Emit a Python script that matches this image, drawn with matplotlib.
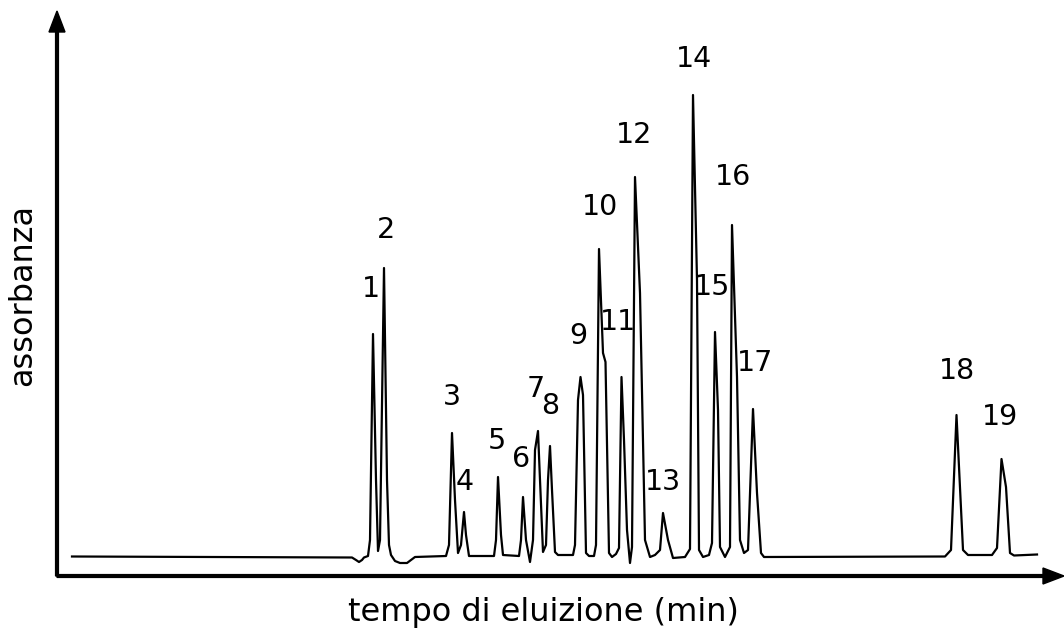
import numpy as np
import matplotlib.pyplot as plt

# tracciato del cromatogramma (tempo, assorbanza)
tempo = [15, 295, 299, 302, 305, 307, 311, 313, 316, 319, 321, 323, 327, 330, 332, 334,
         338, 343, 350, 354, 358, 389, 392, 395, 398, 401, 404, 407, 409, 412, 437, 439,
         441, 444, 446, 462, 464, 466, 469, 473, 476, 478, 481, 483, 486, 489, 491, 493,
         495, 498, 501, 516, 518, 521, 523.5, 526, 529, 532, 537, 539, 542, 546, 548.5, 552,
         555, 559, 562, 564.5, 567, 570, 573, 575, 578, 583, 588, 593, 598, 603, 606, 611,
         616, 628, 633, 636, 640, 642, 646, 652, 655, 658, 661, 663, 668, 673, 675, 680,
         683, 687, 691, 696, 700, 704, 707, 888, 894, 899.5, 906, 911, 935, 940, 944.5, 949,
         953, 957, 980]
assorbanza = [19.5, 18.5, 16, 14, 16, 18.5, 20, 36, 242, 96, 25, 36, 308, 96, 31, 21,
              15, 13, 13, 16, 19, 20, 31, 143, 76, 23, 31, 64, 41, 20, 20, 36,
              99, 41, 21, 20, 36, 79, 36, 14, 36, 126, 145, 96, 24, 31, 96, 130,
              86, 24, 21, 21, 31, 176, 199, 181, 23, 20, 20, 31, 327, 223, 214, 23,
              19, 22, 28, 199, 136, 46, 13, 29, 399, 283, 36, 19, 21, 26, 63, 36,
              18, 19, 27, 481, 296, 26, 19, 21, 33, 244, 166, 29, 19, 29, 351, 199,
              36, 23, 26, 167, 83, 23, 19, 19.5, 26, 161, 26, 21, 21, 28, 117, 89,
              23, 20.5, 21.5]

# etichette dei picchi
picchi = [str(i) for i in range(1, 20)]
picchi_t = [314, 329, 395, 408, 440, 464, 479, 493, 521, 543, 561, 577, 606, 637, 655, 676, 698, 900, 943]
picchi_a = [287, 346, 179, 94, 135, 117, 187, 170, 240, 369, 254, 441, 94, 517, 289, 399, 213, 205, 159]

fig = plt.figure(figsize=(10.64, 6.29), dpi=100)
ax = fig.add_axes([0, 0, 1, 1])
ax.set_xlim(-57, 1007)
ax.set_ylim(-53, 576)
ax.axis('off')

ax.plot(tempo, assorbanza, color='black', lw=1.6, solid_joinstyle='round')

for lab, t, a in zip(picchi, picchi_t, picchi_a):
    ax.text(t, a, lab, fontsize=20.5, ha='center', va='center', family='DejaVu Sans')

# assi con frecce
ax.arrow(0, 0, 1007, 0, width=2.8, head_width=16, head_length=21,
         length_includes_head=True, color='black', clip_on=False)
ax.arrow(0, 0, 0, 565, width=2.8, head_width=16, head_length=21,
         length_includes_head=True, color='black', clip_on=False)

ax.text(486, -36, 'tempo di eluizione (min)', fontsize=23, ha='center', va='center')
ax.text(-34, 281, 'assorbanza', fontsize=23, ha='center', va='center', rotation=90)

plt.savefig('out.png', dpi=100)
